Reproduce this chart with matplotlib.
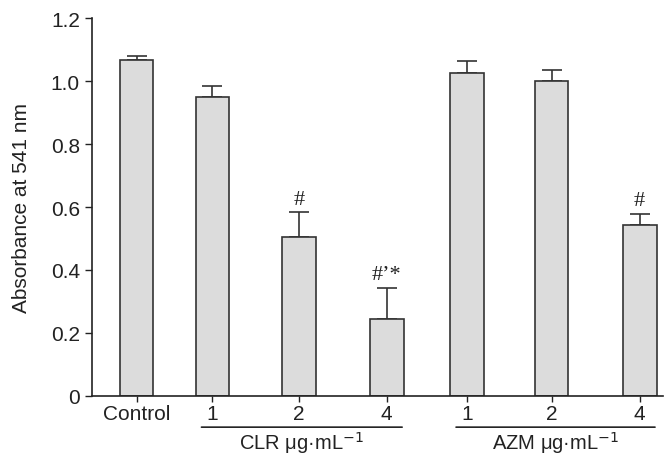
import matplotlib.pyplot as plt

plt.rcParams['font.family'] = ['Liberation Sans', 'DejaVu Sans']

labels = ['Control', '1', '2', '4', '1', '2', '4']
xpos = [0, 0.88, 1.88, 2.9, 3.83, 4.81, 5.83]
means = [1.067, 0.950, 0.505, 0.243, 1.027, 1.000, 0.543]
errs = [0.014, 0.035, 0.078, 0.100, 0.036, 0.037, 0.034]
marks = ['', '', '#', '#\u2019*', '', '', '#']
groups = ['CLR \u03bcg\u00b7mL$^{-1}$', 'AZM \u03bcg\u00b7mL$^{-1}$']

fig = plt.figure(figsize=(6.69, 4.6), dpi=100)
ax = fig.add_axes([0.137, 0.1376, 0.854, 0.8204])

ax.bar(xpos, means, width=0.39, color='#dcdcdc', edgecolor='#333333',
       linewidth=1.2, zorder=2)
ax.errorbar(xpos, means, yerr=[[0]*len(errs), errs], fmt='none',
            ecolor='#333333', elinewidth=1.2, capsize=7, capthick=1.2, zorder=1)

for x, m, e, t in zip(xpos, means, errs, marks):
    if t:
        ax.text(x, m + e + 0.012, t, ha='center', va='bottom',
                fontsize=16, family='Liberation Serif', color='#222222')

ax.set_xlim(-0.52, 6.1)
ax.set_ylim(0, 1.2)
ax.set_yticks([0, 0.2, 0.4, 0.6, 0.8, 1.0, 1.2])
ax.set_yticklabels(['0', '0.2', '0.4', '0.6', '0.8', '1.0', '1.2'])
ax.set_xticks(xpos)
ax.set_xticklabels(labels)
ax.tick_params(labelsize=15, colors='#222222', length=5, width=1)
ax.tick_params(axis='x', length=4, pad=2)
ax.set_ylabel('Absorbance at 541 nm', fontsize=15, color='#222222', labelpad=14)
for s in ['top', 'right']:
    ax.spines[s].set_visible(False)
for s in ['left', 'bottom']:
    ax.spines[s].set_color('#222222')
    ax.spines[s].set_linewidth(1.2)

# group underline + labels
spans = [(xpos[1], xpos[3]), (xpos[4], xpos[6])]
for (a, b), g in zip(spans, groups):
    ax.annotate('', xy=(a - 0.16, -0.1), xytext=(b + 0.21, -0.1),
                xycoords=('data', 'data'), annotation_clip=False,
                arrowprops=dict(arrowstyle='-', color='#222222', lw=1.2))
    ax.text((a + b) / 2 + 0.02, -0.107, g, ha='center', va='top',
            fontsize=14.5, color='#222222', clip_on=False)

plt.savefig('out.png', dpi=100)
